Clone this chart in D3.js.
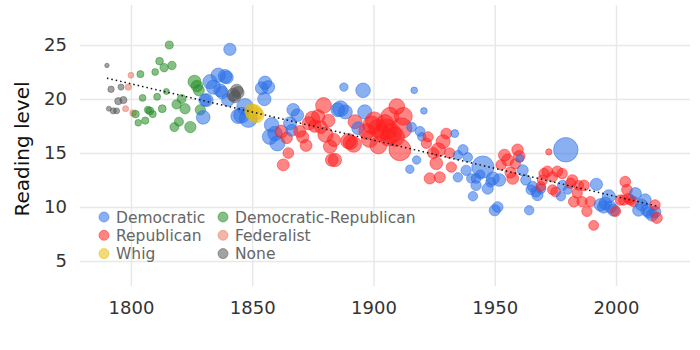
<!DOCTYPE html>
<html>
<head>
<meta charset="utf-8">
<script src="https://cdn.jsdelivr.net/npm/d3@7"></script>
<style>
  body { margin: 0; background: #fff; }
  svg text { font-family: "DejaVu Sans", sans-serif; }
</style>
</head>
<body>
<script>
// reading level of each address: [year, grade level, word count]
const democratic = [
  [1829.8, 18.3, 10500], [1830.5, 19.9, 8500], [1831.2, 19.9, 9500], [1832.6, 21.6, 11500],
  [1834, 21.1, 11500], [1836, 22.2, 11500], [1836.8, 20.8, 9500], [1837.6, 20.6, 9000],
  [1838.8, 22.1, 10500], [1839.5, 22.0, 9500], [1840, 19.9, 9000], [1840.8, 24.6, 8500],
  [1844.2, 18.4, 12000], [1845.6, 18.5, 14000], [1847, 19.3, 15000], [1848.4, 18.2, 18000],
  [1853.9, 21.0, 9000], [1855, 20.0, 10000], [1855.3, 21.5, 10000], [1856.6, 21.1, 9500],
  [1857.3, 16.5, 13000], [1858, 17.6, 12000], [1859.4, 16.8, 12000], [1860.4, 15.9, 13000],
  [1865.6, 17.75, 9500], [1866.3, 17.1, 8000], [1866.9, 19.0, 9000], [1868.6, 18.5, 9000],
  [1885.3, 19.0, 11000], [1886.4, 19.1, 14000], [1887.8, 21.1, 4000], [1888.4, 18.8, 11000],
  [1893.7, 17.3, 9500], [1895.7, 20.8, 12000], [1896.4, 18.8, 11500],
  [1915, 13.5, 4000], [1915.7, 17.4, 5500], [1916.8, 20.8, 2500], [1917.8, 14.35, 4000],
  [1919.2, 17.0, 5500], [1919.9, 16.5, 4000], [1920.8, 18.9, 2500],
  [1933.5, 16.8, 3500], [1934.8, 14.8, 5000], [1934.8, 12.75, 5000], [1936.9, 15.3, 6000],
  [1938.2, 13.4, 6000], [1938.9, 14.6, 5000], [1940.3, 12.65, 5000], [1941, 11.0, 5000],
  [1942.3, 12.65, 5500], [1942.3, 12.0, 6000], [1944, 13.0, 5000],
  [1945.1, 13.7, 27500], [1947.1, 11.7, 7000], [1948.3, 12.3, 5500], [1949.2, 12.65, 9500],
  [1950, 9.7, 7000], [1951.2, 10.0, 6500], [1951.9, 12.5, 9000],
  [1960.4, 14.5, 3500], [1961.5, 13.4, 7000], [1962.8, 12.5, 6000], [1964.2, 9.7, 5000],
  [1964.9, 11.6, 5500], [1965.6, 11.9, 6000], [1967, 11.4, 6000], [1967.6, 11.1, 7000], [1969, 11.7, 5500],
  [1977.3, 11.0, 5000], [1978, 12.0, 6000], [1979.3, 15.3, 33700], [1980.1, 11.6, 4500],
  [1991.9, 12.1, 8500], [1993.6, 10.2, 9000], [1994.9, 10.0, 8500], [1995.6, 10.35, 9000],
  [1997, 11.0, 9500], [1997.7, 10.0, 8000], [1999, 9.7, 8000],
  [2008, 11.25, 8000], [2009.3, 9.7, 8000], [2010.5, 10.2, 8000], [2012, 10.65, 8500],
  [2012.7, 9.7, 8000], [2013.5, 9.5, 7500], [2014.8, 9.25, 8000], [2016.1, 9.55, 7500]
]
const republican = [
  [1862, 17.0, 9000], [1862.8, 13.9, 8000], [1864.2, 16.4, 7500], [1864.9, 15.0, 6500],
  [1869.6, 17.0, 8000], [1870.8, 16.5, 8500], [1872.2, 15.7, 8000], [1873.4, 17.75, 10000],
  [1874.8, 18.2, 12000], [1875.8, 17.5, 9000], [1877.2, 18.4, 10000], [1878.3, 17.4, 9000],
  [1879.4, 19.4, 14000], [1880.2, 16.7, 13000], [1881.5, 18.0, 9000], [1882.1, 15.6, 10000],
  [1882.8, 14.35, 9000], [1883.7, 16.2, 9500], [1884.1, 14.35, 10000],
  [1889.6, 16.1, 13000], [1890.5, 16.0, 12000], [1891.8, 15.8, 14000], [1892.4, 17.9, 11000],
  [1897.2, 17.0, 14000], [1898.4, 16.3, 16000], [1899.3, 17.6, 18000], [1900.3, 18.0, 17000],
  [1901.8, 17.3, 18000], [1902, 15.7, 16000], [1903.5, 16.9, 15000], [1904.7, 17.75, 17000],
  [1905.5, 17.2, 24000], [1906.1, 16.4, 15000], [1906.8, 18.4, 18000], [1907.5, 16.8, 22000],
  [1908.9, 16.5, 20000], [1909.6, 19.3, 14000], [1910.9, 15.3, 27000], [1911.6, 17.3, 24000],
  [1912.3, 18.4, 18000],
  [1921.8, 15.9, 6000], [1922.5, 16.5, 6000], [1923.2, 12.65, 7000], [1924.6, 15.0, 7000],
  [1925.9, 14.05, 9000], [1926.8, 15.3, 11000], [1927.3, 12.75, 7000], [1928.7, 16.05, 11000],
  [1930, 16.8, 6500], [1931.4, 15.0, 6000], [1932.1, 13.7, 6000],
  [1952.6, 13.9, 6000], [1954, 14.8, 8000], [1955.3, 14.35, 8000], [1956.5, 13.2, 7000],
  [1957.4, 12.65, 8000], [1958.5, 14.0, 6000], [1959.4, 15.3, 7500], [1960.1, 14.7, 7500],
  [1969, 11.9, 5500], [1969.7, 12.5, 6000], [1970.3, 13.1, 6000], [1971.7, 13.3, 6500],
  [1972.3, 15.1, 2200], [1973.8, 12.8, 6000], [1973.8, 11.6, 5500], [1975.1, 11.4, 5500],
  [1975.8, 13.3, 6500], [1977.8, 13.1, 6000],
  [1981.3, 12.2, 6000], [1982, 12.5, 6500], [1982.6, 10.5, 6500], [1984, 11.3, 6000],
  [1984.6, 12.0, 5500], [1986, 10.5, 6000], [1986.8, 12.0, 6500], [1988, 9.6, 6000],
  [1989.4, 10.5, 6000], [1990.8, 8.3, 5500],
  [1999.8, 9.6, 6000], [2001.8, 10.65, 6000], [2003.2, 10.65, 6000], [2003.8, 12.35, 6500],
  [2004.5, 11.6, 6500], [2005.2, 10.8, 6000], [2005.9, 10.65, 6000], [2007.3, 10.5, 6000],
  [2016.1, 10.2, 6000], [2016.8, 9.0, 7000]
]
const whig = [[1849.8, 18.9, 11000], [1850.8, 18.7, 16000], [1851.7, 18.5, 13000]]
const demRepublican = [
  [1801.9, 18.6, 3200], [1803, 17.8, 2500], [1803.9, 22.3, 2800], [1804.8, 20.1, 2600],
  [1805.9, 18.0, 3000], [1807, 19.0, 2900], [1807.8, 18.9, 3500], [1809, 18.6, 2800],
  [1810, 22.5, 2600], [1810.8, 20.2, 2700], [1811.8, 23.5, 3300], [1812.9, 19.1, 3500],
  [1813.7, 22.9, 4000], [1814.6, 20.7, 2000], [1815.8, 25.0, 3600], [1816.9, 23.1, 4000],
  [1817.9, 17.4, 4500], [1818.8, 19.5, 4800], [1819.8, 17.9, 4600], [1820.9, 20.0, 4400],
  [1822.3, 19.1, 6000], [1824.5, 17.4, 7200], [1826.2, 21.6, 9500], [1827.2, 21.2, 7500],
  [1828, 20.8, 6800], [1828.6, 19.0, 6000]
]
const federalist = [[1797.8, 19.1, 2100], [1798.9, 21.1, 2300], [1800, 22.2, 1900], [1800.9, 18.7, 2500]]
const noParty = [
  [1790.1, 23.1, 1100], [1790.9, 19.1, 1400], [1791.8, 20.9, 2300], [1792.7, 18.9, 2100],
  [1794.1, 18.9, 2000], [1794.8, 19.8, 2900], [1795.9, 21.1, 2100], [1796.9, 19.9, 2900],
  [1842.2, 20.4, 9500], [1842.8, 20.2, 8000], [1843.6, 20.8, 8500], [1844.2, 20.6, 8000]
]

const partyNames = ['Democratic', 'Republican', 'Whig', 'Democratic-Republican', 'Federalist', 'None']
const partyData = [democratic, republican, whig, demRepublican, federalist, noParty]
const partyColors = ['#2a6fe8', '#ff1f1f', '#e6bc0a', '#228b22', '#e87a62', '#555555']
const yTicks = [5, 10, 15, 20, 25]
const xTicks = [1800, 1850, 1900, 1950, 2000]

const width = 700
const height = 350
const margin = { top: 5, right: 10, bottom: 64, left: 80 }

let points = []
partyData.forEach((arr, i) => {
  arr.forEach(d => points.push({ year: d[0], level: d[1], words: d[2], party: partyNames[i] }))
})
points.sort((a, b) => a.year - b.year)

const svg = d3.select('body').append('svg')
  .attr('width', width)
  .attr('height', height)

const xScale = d3.scaleLinear().domain([1779, 2030.5]).range([margin.left, width - margin.right])
const yScale = d3.scaleLinear().domain([2.69, 28.7]).range([height - margin.bottom, margin.top])
const rScale = d3.scaleSqrt().domain([0, 34000]).range([0, 12.3])
const color = d3.scaleOrdinal().domain(partyNames).range(partyColors)

// grid + y labels
const yAxis = svg.append('g')
  .attr('transform', 'translate(' + margin.left + ',0)')
  .call(d3.axisLeft(yScale).tickValues(yTicks).tickSize(-(width - margin.left - margin.right)).tickPadding(13))
// grid + x labels
const xAxis = svg.append('g')
  .attr('transform', 'translate(0,' + (height - margin.bottom) + ')')
  .call(d3.axisBottom(xScale).tickValues(xTicks).tickFormat(d3.format('d'))
    .tickSize(-(height - margin.top - margin.bottom)).tickPadding(15))
;[yAxis, xAxis].forEach(g => {
  g.select('.domain').remove()
  g.selectAll('line').attr('stroke', '#e8e8e8').attr('stroke-width', 1.5)
  g.selectAll('text').attr('fill', '#333').style('font-size', '18px')
})

svg.append('text')
  .attr('transform', 'translate(22,149) rotate(-90)')
  .attr('text-anchor', 'middle')
  .attr('dominant-baseline', 'central')
  .attr('fill', '#111')
  .style('font-size', '20px')
  .text('Reading level')

// bubbles
svg.append('g').selectAll('circle')
  .data(points)
  .join('circle')
  .attr('cx', d => xScale(d.year))
  .attr('cy', d => yScale(d.level))
  .attr('r', d => rScale(d.words))
  .attr('fill', d => color(d.party))
  .attr('fill-opacity', 0.55)
  .attr('stroke', d => color(d.party))
  .attr('stroke-opacity', 0.5)
  .attr('stroke-width', 1)

// linear trend
const reg = (() => {
  const mx = d3.mean(points, d => d.year)
  const my = d3.mean(points, d => d.level)
  const b = d3.sum(points, d => (d.year - mx) * (d.level - my)) / d3.sum(points, d => (d.year - mx) ** 2)
  return x => my + b * (x - mx)
})()
const yearExtent = d3.extent(points, d => d.year)
svg.append('path')
  .attr('d', d3.line().x(d => xScale(d)).y(d => yScale(reg(d)))(yearExtent))
  .attr('stroke', '#111')
  .attr('stroke-width', 1.5)
  .attr('stroke-dasharray', '1.5,3')
  .attr('fill', 'none')

// legend
const legend = svg.append('g')
partyNames.forEach((name, i) => {
  const col = Math.floor(i / 3)
  const row = i % 3
  const g = legend.append('g').attr('transform', 'translate(' + (104 + col * 119) + ',' + (217 + row * 18.3) + ')')
  g.append('circle').attr('r', 5)
    .attr('fill', color(name)).attr('fill-opacity', 0.55)
    .attr('stroke', color(name)).attr('stroke-opacity', 0.5)
  g.append('text').attr('x', 12).attr('dy', '0.36em')
    .attr('fill', '#666')
    .style('font-size', '15.5px')
    .text(name)
})
</script>
</body>
</html>
